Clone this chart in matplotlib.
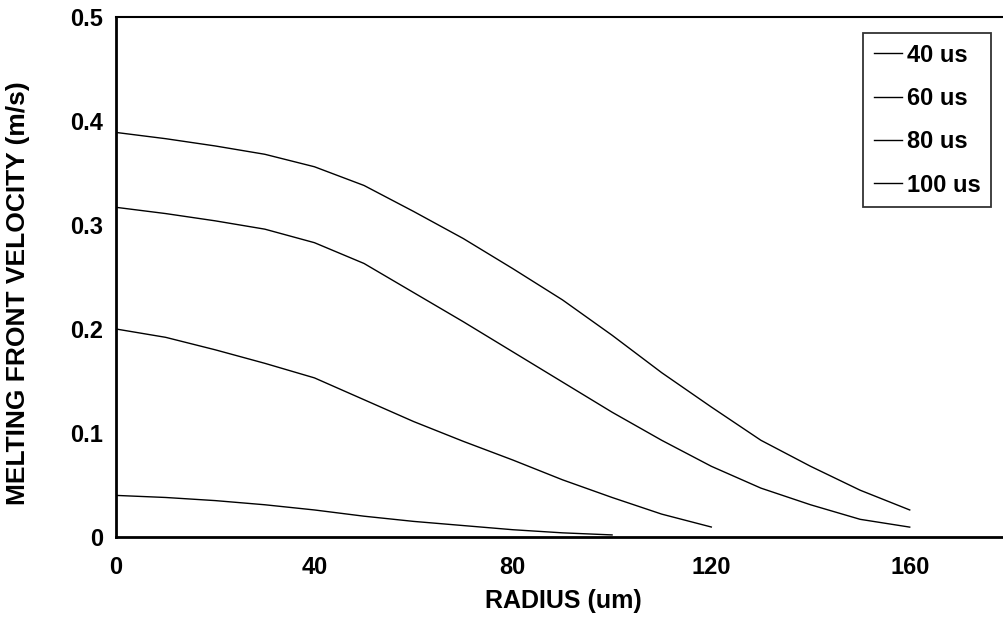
import matplotlib
matplotlib.use("Agg")
import matplotlib.pyplot as plt
from matplotlib.ticker import FuncFormatter

plt.rcParams['font.family'] = ['Liberation Sans', 'DejaVu Sans']
plt.rcParams['font.weight'] = 'bold'

# Data
x_40 = [0, 10, 20, 30, 40, 50, 60, 70, 80, 90, 100]
v_40 = [0.040, 0.038, 0.035, 0.031, 0.026, 0.020, 0.015, 0.011, 0.007, 0.004, 0.002]

x_60 = [0, 10, 20, 30, 40, 50, 60, 70, 80, 90, 100, 110, 120]
v_60 = [0.200, 0.192, 0.180, 0.167, 0.153, 0.132, 0.111, 0.092, 0.074, 0.055, 0.038, 0.022, 0.0096]

x_80 = [0, 10, 20, 30, 40, 50, 60, 70, 80, 90, 100, 110, 120, 130, 140, 150, 160]
v_80 = [0.317, 0.311, 0.304, 0.296, 0.283, 0.263, 0.235, 0.207, 0.178, 0.149, 0.120, 0.093,
        0.068, 0.047, 0.031, 0.017, 0.0095]

x_100 = [0, 10, 20, 30, 40, 50, 60, 70, 80, 90, 100, 110, 120, 130, 140, 150, 160]
v_100 = [0.389, 0.383, 0.376, 0.368, 0.356, 0.338, 0.313, 0.287, 0.258, 0.228, 0.194, 0.158,
         0.125, 0.093, 0.068, 0.045, 0.026]

labels = ['40 us', '60 us', '80 us', '100 us']
x_ticks = [0, 40, 80, 120, 160]
y_ticks = [0, 0.1, 0.2, 0.3, 0.4, 0.5]

fig = plt.figure(figsize=(10.04, 6.2), dpi=100)
ax = fig.add_axes([116/1004, 83/620, 886/1004, 520/620])

for xs, vs, lab in zip([x_40, x_60, x_80, x_100], [v_40, v_60, v_80, v_100], labels):
    ax.plot(xs, vs, color='black', lw=1.0, label=lab)

ax.set_xlim(0, 178.6)
ax.set_ylim(0, 0.5)
ax.set_xticks(x_ticks)
ax.set_yticks(y_ticks)
ax.yaxis.set_major_formatter(FuncFormatter(lambda v, p: '0' if abs(v) < 1e-9 else f'{v:.1f}'))
ax.tick_params(axis='both', length=0)
ax.tick_params(axis='x', pad=14, labelsize=17)
ax.tick_params(axis='y', pad=9, labelsize=17)

ax.spines['right'].set_visible(False)
ax.spines['left'].set_linewidth(2.0)
ax.spines['bottom'].set_linewidth(2.0)
ax.spines['top'].set_linewidth(1.5)

ax.set_xlabel('RADIUS (um)', fontsize=18, fontweight='bold')
ax.set_ylabel('MELTING FRONT VELOCITY (m/s)', fontsize=19, fontweight='bold')
ax.xaxis.set_label_coords(0.5045, -0.100)
ax.yaxis.set_label_coords(-0.097, 0.469)

leg = ax.legend(loc='upper right', bbox_to_anchor=(0.9876, 0.969), borderaxespad=0,
                fontsize=17, handlelength=1.2, handletextpad=0.2, labelspacing=0.86,
                fancybox=False, frameon=True, borderpad=0.45)
leg.get_frame().set_edgecolor('black')
leg.get_frame().set_linewidth(1.3)
for t in leg.get_texts():
    t.set_fontweight('bold')

fig.savefig('out.png', dpi=100)
